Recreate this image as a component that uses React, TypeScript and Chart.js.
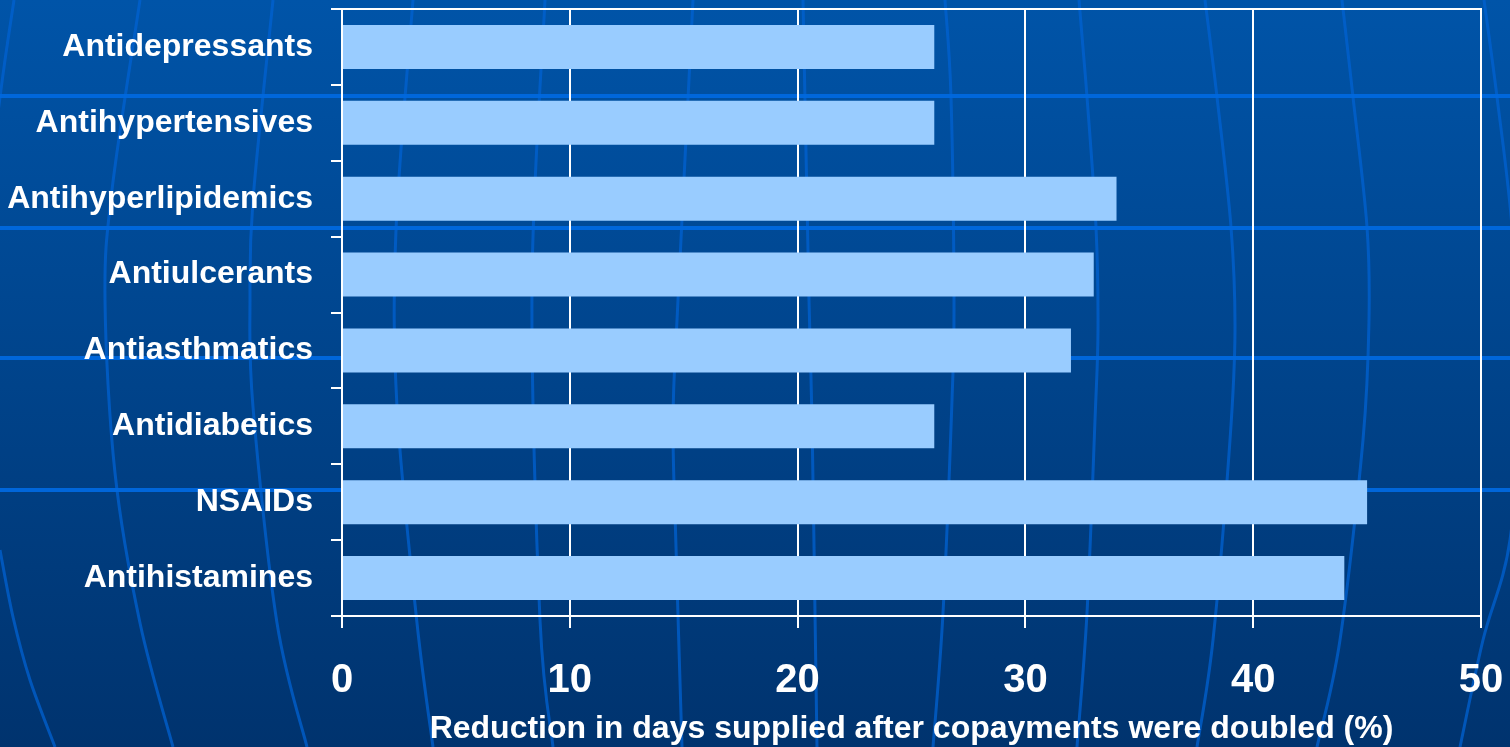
import { useEffect, useRef } from "react";
import { Chart, registerables } from "chart.js";

Chart.register(...registerables);

// Drug classes, top to bottom
const categories = [
  "Antidepressants",
  "Antihypertensives",
  "Antihyperlipidemics",
  "Antiulcerants",
  "Antiasthmatics",
  "Antidiabetics",
  "NSAIDs",
  "Antihistamines",
];

// Reduction in days supplied (%) after copayments were doubled
const reductionPct = [26, 26, 34, 33, 32, 26, 45, 44];

const xMin = 0;
const xMax = 50;
const xStep = 10;
const xTitle = "Reduction in days supplied after copayments were doubled (%)";

const FONT = "'Liberation Sans', Arial, Helvetica, sans-serif";

// Slide backdrop: a blue gradient with a faint globe grid (meridians + parallels),
// laid out on a 1510 x 747 design grid and scaled to the canvas.
const DESIGN_W = 1510;
const DESIGN_H = 747;
const parallels = [96, 228, 358, 490];
const meridians: number[][][] = [
  [[14, 0], [5, 60], [-3, 120]],
  [[140, 0], [112, 190], [105, 300], [115, 473], [140, 623], [173, 747]],
  [[273, 0], [253, 200], [250, 300], [253, 407], [277, 623], [307, 747]],
  [[413, 0], [396, 230], [397, 407], [417, 623], [433, 747]],
  [[545, 0], [532, 285], [540, 620], [553, 747]],
  [[693, 0], [678, 300], [673, 420], [676, 547], [682, 747]],
  [[803, 0], [809, 300], [812, 420], [815, 613], [817, 747]],
  [[945, 0], [951, 97], [954, 300], [952, 400], [943, 613], [933, 747]],
  [[1079, 0], [1087, 97], [1096, 227], [1098, 330], [1095, 420], [1087, 613], [1077, 747]],
  [[1205, 0], [1217, 97], [1231, 227], [1235, 330], [1230, 440], [1213, 640], [1197, 747]],
  [[1342, 0], [1353, 97], [1367, 227], [1369, 320], [1363, 440], [1340, 640], [1317, 747]],
  [[1484, 0], [1497, 97], [1512, 227], [1520, 380], [1510, 540], [1483, 640], [1460, 747]],
  [[0, 550], [13, 617], [30, 680], [55, 747]],
];

function strokeSmooth(ctx: CanvasRenderingContext2D, pts: number[][], sx: number, sy: number) {
  const p = pts.map(([x, y]) => [x * sx, y * sy]);
  ctx.beginPath();
  ctx.moveTo(p[0][0], p[0][1]);
  for (let i = 0; i < p.length - 1; i++) {
    const p0 = p[i - 1] || p[i];
    const p1 = p[i];
    const p2 = p[i + 1];
    const p3 = p[i + 2] || p2;
    ctx.bezierCurveTo(
      p1[0] + (p2[0] - p0[0]) / 6,
      p1[1] + (p2[1] - p0[1]) / 6,
      p2[0] - (p3[0] - p1[0]) / 6,
      p2[1] - (p3[1] - p1[1]) / 6,
      p2[0],
      p2[1]
    );
  }
  ctx.stroke();
}

const globeBackdrop = {
  id: "globeBackdrop",
  beforeDraw(chart: Chart) {
    const { ctx, width, height } = chart;
    const sx = width / DESIGN_W;
    const sy = height / DESIGN_H;
    ctx.save();
    const g = ctx.createLinearGradient(0, 0, 0, height);
    g.addColorStop(0, "#0054a8");
    g.addColorStop(1, "#00336e");
    ctx.fillStyle = g;
    ctx.fillRect(0, 0, width, height);

    ctx.strokeStyle = "rgba(0, 98, 210, 0.75)";
    ctx.lineWidth = 3;
    for (const m of meridians) strokeSmooth(ctx, m, sx, sy);

    ctx.strokeStyle = "rgba(0, 104, 222, 0.95)";
    ctx.lineWidth = 4;
    for (const y of parallels) {
      ctx.beginPath();
      ctx.moveTo(0, y * sy);
      ctx.lineTo(width, y * sy);
      ctx.stroke();
    }
    ctx.restore();
  },
};

// Let the layout padding alone decide the plot edges (no label overhang padding)
const fixBox = (size: { width?: number; height?: number }) => (scale: any) => {
  if (size.width !== undefined) scale.width = size.width;
  if (size.height !== undefined) scale.height = size.height;
  scale.paddingTop = 0;
  scale.paddingBottom = 0;
  scale.paddingLeft = 0;
  scale.paddingRight = 0;
};

export default function App() {
  const canvasRef = useRef<HTMLCanvasElement | null>(null);

  useEffect(() => {
    const canvas = canvasRef.current;
    if (!canvas) return;
    const white = "#ffffff";

    const chart = new Chart(canvas, {
      type: "bar",
      data: {
        labels: categories,
        datasets: [
          {
            data: reductionPct,
            backgroundColor: "#99ccff",
            borderWidth: 0,
            barPercentage: 0.58,
            categoryPercentage: 1,
          },
        ],
      },
      options: {
        indexAxis: "y",
        animation: false,
        responsive: false,
        devicePixelRatio: 1,
        layout: { padding: { top: 9, right: 29, left: 0, bottom: 0 } },
        plugins: {
          legend: { display: false },
          tooltip: { enabled: false },
        },
        scales: {
          y: {
            type: "category",
            offset: true,
            grid: {
              offset: true,
              drawOnChartArea: false,
              drawTicks: true,
              tickLength: 11,
              color: white,
              lineWidth: 2,
            },
            border: { display: true, color: white, width: 2 },
            ticks: {
              color: white,
              autoSkip: false,
              padding: 18,
              font: { family: FONT, size: 32, weight: "bold", lineHeight: 1.1 },
            },
            afterFit: fixBox({ width: 342 }),
          },
          x: {
            type: "linear",
            position: "bottom",
            min: xMin,
            max: xMax,
            grid: {
              color: white,
              lineWidth: 2,
              drawTicks: true,
              tickLength: 12,
            },
            border: { display: true, color: white, width: 2 },
            ticks: {
              stepSize: xStep,
              color: white,
              padding: 29,
              font: { family: FONT, size: 40, weight: "bold" },
            },
            title: {
              display: true,
              text: xTitle,
              color: white,
              font: { family: FONT, size: 32, weight: "bold", lineHeight: 1.1 },
              padding: { top: 4, bottom: 0 },
            },
            afterFit: fixBox({ height: 131 }),
          },
          xTop: {
            type: "linear",
            position: "top",
            min: xMin,
            max: xMax,
            grid: { display: false, drawTicks: false },
            ticks: { display: false },
            border: { display: true, color: white, width: 2 },
            afterFit: fixBox({ height: 0 }),
          },
        },
      },
      plugins: [globeBackdrop],
    } as any);

    return () => chart.destroy();
  }, []);

  return (
    <div style={{ position: "fixed", left: 0, top: 0, width: 1510, height: 747 }}>
      <canvas ref={canvasRef} width={1510} height={747} style={{ display: "block" }} />
    </div>
  );
}
